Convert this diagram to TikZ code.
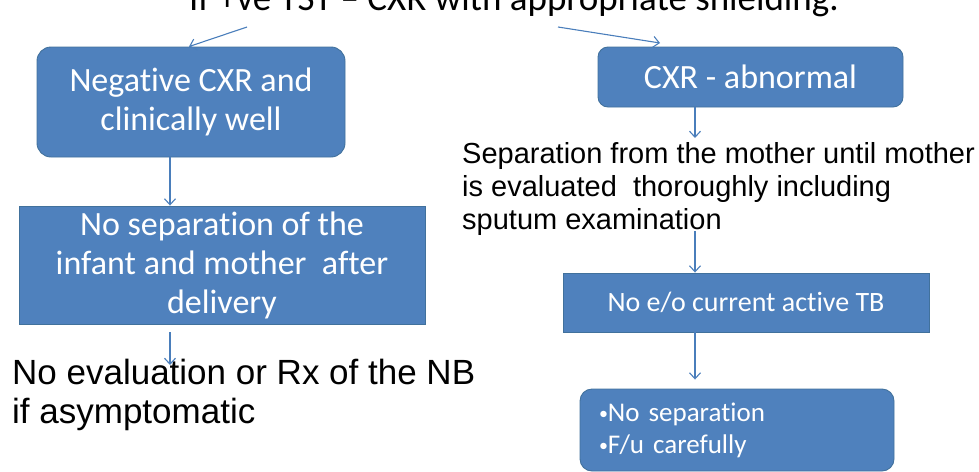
\documentclass[tikz,border=0pt]{standalone}
\usepackage{fontspec}
\setmainfont{Liberation Sans}
\newfontfamily\calfont[Ligatures=NoCommon]{Carlito}
\usepackage{tikz}
\usetikzlibrary{arrows.meta, positioning, calc}

\definecolor{boxblue}{HTML}{4F81BD}
\definecolor{boxedge}{HTML}{41719C}
\definecolor{arrowblue}{HTML}{4A7EBB}

\newcommand{\smallbul}{\raisebox{2pt}{\fontsize{18}{18}\selectfont •}}

\tikzset{
  stepbox/.style={draw=boxedge, fill=boxblue, line width=0.9pt, text=white, align=center,
    inner sep=0pt, font=\calfont\fontsize{34}{39}\selectfont},
  roundbox/.style={stepbox, rounded corners=14pt},
  plaintext/.style={anchor=north west, align=left, inner sep=0pt},
  flowarrow/.style={draw=arrowblue, line width=1.1pt, -{Straight Barb[length=6pt,width=11pt]}},
}

\begin{document}
\begin{tikzpicture}[x=1pt, y=-1pt]
  \useasboundingbox (0,0) rectangle (979,471);
  \clip (0,0) rectangle (979,471);

  % heading, cut off at the top
  \node[anchor=base, inner sep=0pt, font=\calfont\fontsize{37}{44}\selectfont] (tst) at (514,10)
    {If +ve TST – CXR with appropriate shielding.};
  \coordinate (tstleft) at (247,27);
  \coordinate (tstright) at (558,27);
  \coordinate (cxrtop) at (660,43);
  \coordinate (leftline) at (170,0);
  \coordinate (rightline) at (695,0);

  % left branch
  \node[roundbox, minimum width=308pt, minimum height=110pt] (neg) at (191,102)
    {Negative CXR and\\clinically well};
  \node[stepbox, minimum width=406pt, minimum height=118pt] (nosep) at (222,265)
    {No separation of the\\infant and mother\ \ after\\delivery};
  \node[plaintext, font=\fontsize{35}{39}\selectfont] (noeval) at (12,359)
    {No evaluation or Rx of the NB\\if asymptomatic};

  % right branch
  \node[roundbox, rounded corners=10pt, minimum width=305pt, minimum height=60pt] (abn) at (750.5,77)
    {CXR - abnormal};
  \node[plaintext, font=\fontsize{29}{33}\selectfont] (sepmother) at (462,142)
    {Separation from the mother until mother\\is evaluated\ \ thoroughly including\\sputum examination};
  \node[stepbox, font=\calfont\fontsize{28}{34}\selectfont, minimum width=366pt, minimum height=59pt] (noactive) at (746,302.5)
    {No e/o current active TB};
  \node[roundbox, rounded corners=12pt, font=\calfont\fontsize{27}{32}\selectfont, align=left,
    text width=276pt, inner xsep=19pt, minimum height=82pt] (follow) at (737,430)
    {\smallbul No separation\\\smallbul F/u carefully};

  % connectors
  \draw[flowarrow] (tstleft) -- (neg.north -| 189,0);
  \draw[flowarrow] (tstright) -- (cxrtop);
  \draw[flowarrow] (neg.south -| leftline) -- (nosep.north -| leftline);
  \draw[flowarrow, shorten <=8pt] (nosep.south -| leftline) -- ($(noeval.north -| leftline)+(0,6)$);
  \draw[flowarrow] (abn.south -| rightline) -- ($(sepmother.north -| rightline)+(0,-4)$);
  \draw[flowarrow, shorten <=-4pt] (sepmother.south -| rightline) -- (noactive.north -| rightline);
  \draw[flowarrow] (noactive.south -| rightline) -- ($(follow.north -| rightline)+(0,-9)$);
\end{tikzpicture}
\end{document}
